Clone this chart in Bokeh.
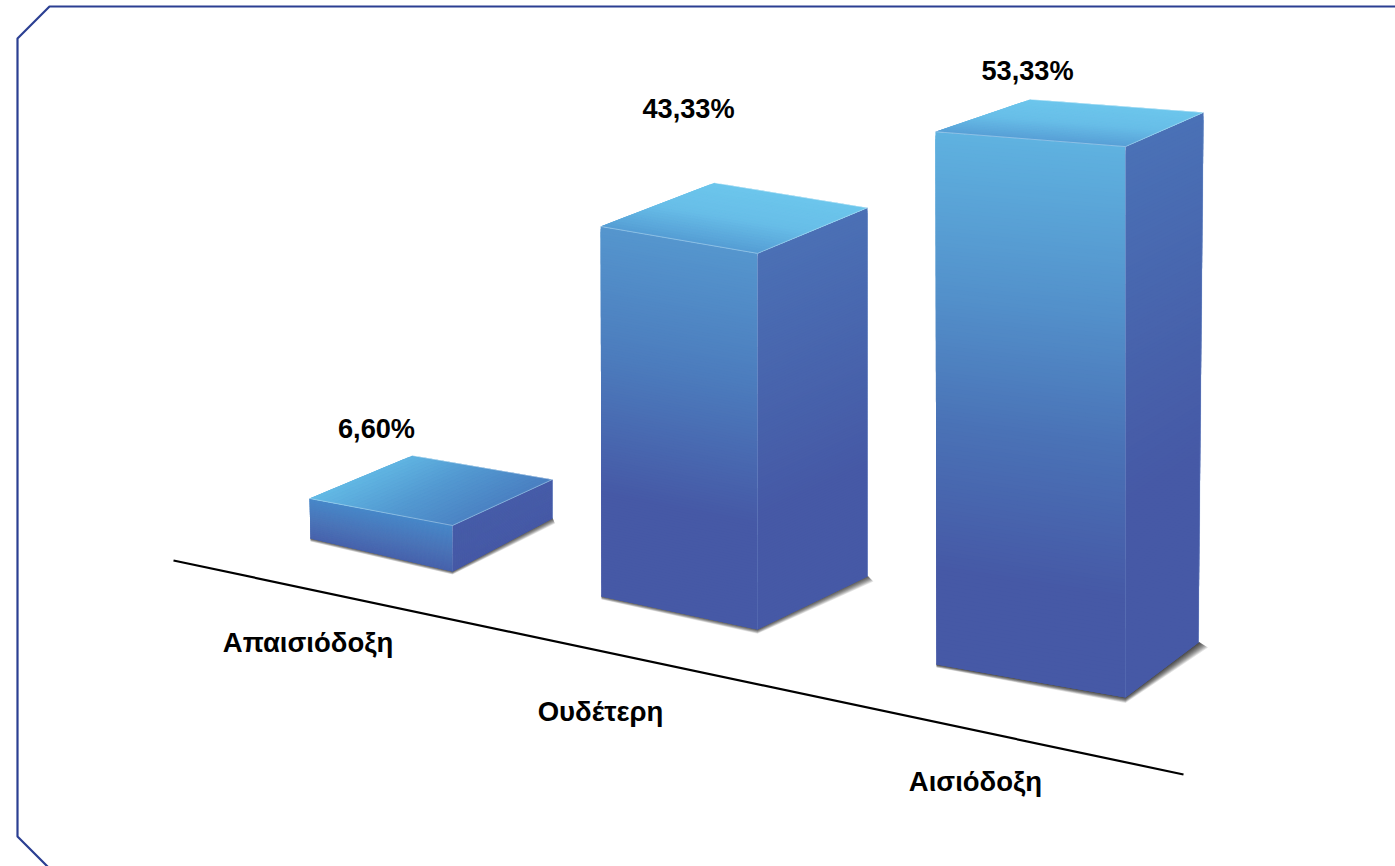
from bokeh.plotting import figure
from bokeh.models import ColumnDataSource
from bokeh.embed import file_html
from bokeh.resources import INLINE
from bokeh.core.properties import value

# ---- data ----
categories = ["Απαισιόδοξη", "Ουδέτερη", "Αισιόδοξη"]
percentages = [6.60, 43.33, 53.33]
value_labels = [f"{v:.2f}".replace(".", ",") + "%" for v in percentages]

# ---- layout (page pixels): footprint corners of each bar, and the rise of each corner per percentage point
W, H = 1395, 866
footprints = [  # front-left, front, right, back
    [(310, 538), (452, 571), (552, 518), (412, 495)],
    [(601, 596), (757, 629), (867, 576), (714, 551)],
    [(936, 664), (1125, 697), (1198, 642), (1030, 630)],
]
rises = [
    [(-0.15, 6.06), (0, 6.97), (0, 5.91), (0, 6.06)],
    [(-0.02, 8.54), (0, 8.68), (0, 8.51), (0, 8.51)],
    [(-0.02, 9.99), (0, 10.33), (0.094, 9.94), (0, 9.96)],
]
value_label_pos = [(376, 427.5), (688, 107.5), (1027, 69.5)]
category_label_pos = [(307.5, 641.5), (600, 710.5), (975, 780.5)]
axis_x, axis_y = [173, 1183], [560, 774]
frame_x = [1397, 49, 17, 17, 49, 1397]
frame_y = [6, 6, 38, 836, 868, 868]

BASE = "#4659a6"
front_stops = [
    [(0, "#4788c9"), (0.55, "#4a74b8"), (1, "#4762ac")],
    [(0, "#5596ce"), (0.35, "#4c7cbd"), (0.72, BASE), (1, BASE)],
    [(0, "#5fb2e0"), (0.3, "#5391cb"), (0.55, "#4a72b6"), (0.82, BASE), (1, BASE)],
]
right_stops = [
    [(0, "#465ca8"), (1, BASE)],
    [(0, "#4b70b5"), (0.5, "#4760aa"), (0.7, BASE), (1, BASE)],
    [(0, "#4a71b6"), (0.45, "#4760aa"), (0.65, BASE), (1, BASE)],
]
top_stops = [
    # colour runs over the face: (u weight, v weight, offset, stops)
    (0.9, -0.1, 0.1, [(0, "#63bae5"), (0.5, "#5399d1"), (1, "#4a7fc1")]),
    (0.0, 1.0, 0.0, [(0, "#6cc6ec"), (0.5, "#68bee8"), (1, "#559dd4")]),
    (0.0, 1.0, 0.0, [(0, "#6cc6ec"), (0.5, "#68bee8"), (1, "#579fd6")]),
]
shadow_alpha = [0.09, 0.09, 0.11]
shadow_layers = 10


def rgb(h):
    return tuple(int(h[i:i + 2], 16) for i in (1, 3, 5))


def ramp(stops, t):
    t = min(max(t, 0), 1)
    for (a, ca), (b, cb) in zip(stops, stops[1:]):
        if t <= b:
            f = (t - a) / (b - a) if b > a else 0
            ra, rb = rgb(ca), rgb(cb)
            return "#%02x%02x%02x" % tuple(round(x + (y - x) * f) for x, y in zip(ra, rb))
    return stops[-1][1]


def bilinear(q, u, v):
    (ax, ay), (bx, by), (cx, cy), (dx, dy) = q
    x = ax * (1 - u) * (1 - v) + bx * u * (1 - v) + cx * u * v + dx * (1 - u) * v
    y = ay * (1 - u) * (1 - v) + by * u * (1 - v) + cy * u * v + dy * (1 - u) * v
    return x, y


def cells(q, nu, nv, colour):
    # each cell overlaps the next ones a little and is painted over by them, so no seams show
    xs, ys, cs = [], [], []
    for i in range(nu):
        for j in range(nv):
            u0, v0 = i / nu, j / nv
            u1, v1 = min((i + 3) / nu, 1), min((j + 3) / nv, 1)
            pts = [bilinear(q, u0, v0), bilinear(q, u1, v0), bilinear(q, u1, v1), bilinear(q, u0, v1)]
            xs.append([pt[0] for pt in pts])
            ys.append([pt[1] for pt in pts])
            cs.append(colour(u0 + 0.5 / nu, v0 + 0.5 / nv))
    return xs, ys, cs


p = figure(width=W, height=H, x_range=(0, W), y_range=(H, 0), toolbar_location=None,
           output_backend="svg", min_border=0, outline_line_color=None,
           background_fill_color="white", border_fill_color="white", margin=(0, 0, 0, 0))
p.axis.visible = False
p.grid.visible = False

# frame and baseline
p.line(frame_x, frame_y, line_color="#2b3f92", line_width=2.2)
p.line(axis_x, axis_y, line_color="black", line_width=2.2)

faces_x, faces_y, faces_c = [], [], []
edges_x, edges_y, edges_c, edges_a = [], [], [], []

for i, pct in enumerate(percentages):
    base = footprints[i]
    tops = [(bx + pct * rx, by - pct * ry) for (bx, by), (rx, ry) in zip(base, rises[i])]
    fl, f, r, b = base
    tfl, tf, tr, tb = tops

    # soft contact shadow under the two visible bottom edges
    for k in range(1, shadow_layers + 1):
        sx = [fl[0], f[0], r[0], r[0] + k * (0.25 + 0.35 * i), f[0], fl[0]]
        sy = [fl[1] - 1, f[1] - 1, r[1] - 1, r[1] + k * 0.5, f[1] + k * (0.3 + 0.12 * i), fl[1] + k * 0.3]
        p.patch(sx, sy, fill_color="black", fill_alpha=shadow_alpha[i], line_color=None)

    # front face
    x_, y_, c_ = cells([tfl, tf, f, fl], 1, 140, lambda u, v, s=front_stops[i]: ramp(s, v))
    faces_x += x_; faces_y += y_; faces_c += c_
    # right face
    x_, y_, c_ = cells([tf, tr, r, f], 1, 140, lambda u, v, s=right_stops[i]: ramp(s, v))
    faces_x += x_; faces_y += y_; faces_c += c_
    # top face
    wu, wv, off, st = top_stops[i]
    x_, y_, c_ = cells([tb, tr, tf, tfl], 24, 24,
                       lambda u, v, s=st, a=wu, c=wv, o=off: ramp(s, a * u + c * v + o))
    faces_x += x_; faces_y += y_; faces_c += c_

    # pale highlight along the edges
    for seg, col, al in (
        ([tfl, tf, tr], "#cfe6f6", 0.45),
        ([tb, tr], "#ffffff", 0.5),
        ([tr, r], "#8fb0de", 0.3),
    ):
        edges_x.append([pt[0] for pt in seg])
        edges_y.append([pt[1] for pt in seg])
        edges_c.append(col)
        edges_a.append(al)
    # the corner line between front and right fades towards the floor
    for k in range(8):
        a0, a1 = k / 8, (k + 1) / 8
        edges_x.append([tf[0] + (f[0] - tf[0]) * a0, tf[0] + (f[0] - tf[0]) * a1])
        edges_y.append([tf[1] + (f[1] - tf[1]) * a0, tf[1] + (f[1] - tf[1]) * a1])
        edges_c.append("#8fb3e0")
        edges_a.append(0.4 * (1 - a0) + 0.1)

p.patches("xs", "ys", fill_color="c", line_color=None,
          source=ColumnDataSource(dict(xs=faces_x, ys=faces_y, c=faces_c)))
p.multi_line("xs", "ys", line_color="c", line_alpha="a", line_width=1,
             source=ColumnDataSource(dict(xs=edges_x, ys=edges_y, c=edges_c, a=edges_a)))

p.text([pos[0] for pos in value_label_pos], [pos[1] for pos in value_label_pos], text=value_labels,
       text_font=value("Liberation Sans"), text_font_style="bold", text_font_size="27.2px",
       text_color="black", text_align="center", text_baseline="middle")
p.text([pos[0] for pos in category_label_pos], [pos[1] for pos in category_label_pos], text=categories,
       text_font=value("Liberation Sans"), text_font_style="bold", text_font_size="27.5px",
       text_color="black", text_align="center", text_baseline="middle")

open("out.html", "w").write(file_html(p, INLINE))
